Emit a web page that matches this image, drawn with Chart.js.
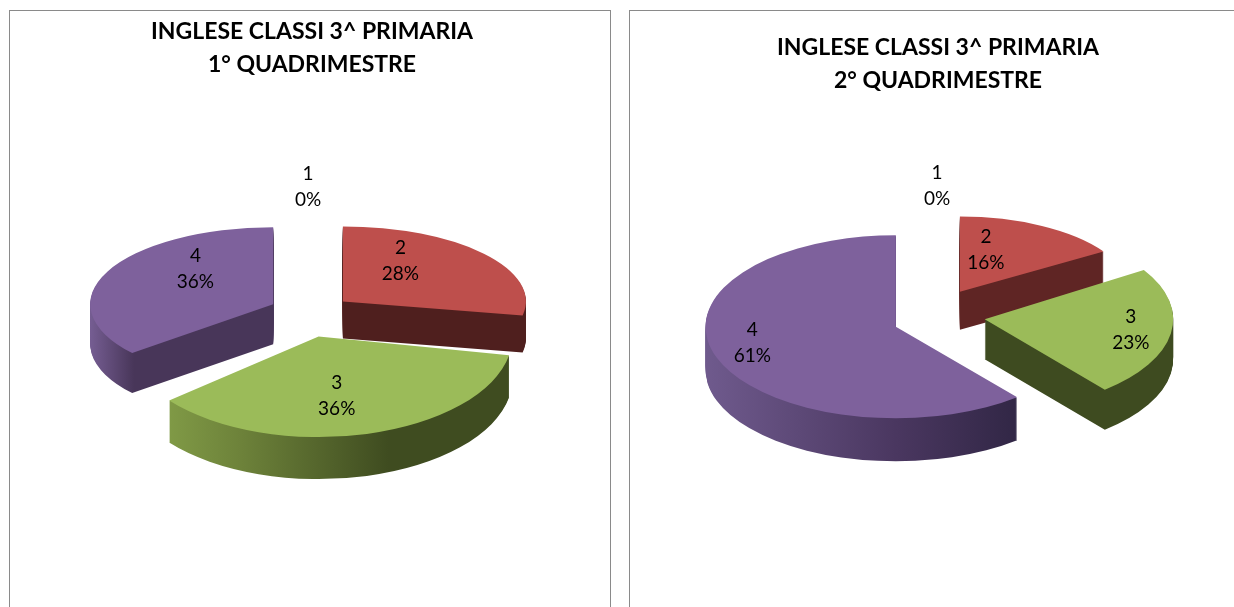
<!DOCTYPE html>
<html>
<head>
<meta charset="utf-8">
<script src="https://cdn.jsdelivr.net/npm/chart.js@4"></script>
<style>
    html, body { margin: 0; padding: 0; background: #fff; overflow: hidden; width: 1234px; height: 607px; }
    .box { position: absolute; top: 10px; height: 620px; border: 1px solid #8a8a8a; box-sizing: border-box; }
    canvas { position: absolute; top: 11px; }
</style>
</head>
<body>
<div class="box" style="left:9px;width:602px"></div>
<div class="box" style="left:629px;width:640px"></div>
<canvas id="chart1" width="604" height="596" style="left:10px"></canvas>
<canvas id="chart2" width="616" height="596" style="left:630px"></canvas>
<script>
// Dati
const categorie = ["1", "2", "3", "4"];
const valori1 = [0, 28, 36, 36];
const valori2 = [0, 16, 23, 61];
const titolo1 = ["INGLESE CLASSI 3^ PRIMARIA", "1° QUADRIMESTRE"];
const titolo2 = ["INGLESE CLASSI 3^ PRIMARIA", "2° QUADRIMESTRE"];
const coloriTop = ["#4f81bd", "#be4f4c", "#9bbb59", "#7e619c"];

const RAGGIO = 183;

// Stile 3D di ogni grafico (coordinate relative al canvas)
const stile1 = {
    cx: 301, cy: 303, explode: 44,
    fette: [
        { sx: 1, sy: 0.41, dz: 0, dx: 0, dy: 0, lx: 0, ly: 0, side: [[0, "#444"]] },
        { sx: 1, sy: 0.41, dz: 37, dx: -2, dy: -1, lx: -13, ly: -17, side: [[0, "#4f1f1e"], [1, "#4f1f1e"]] },
        { sx: 1.06, sy: 0.55, dz: 42, dx: -4, dy: -1, lx: -6, ly: 11, side: [[0, "#8ba84d"], [0.3, "#6d823a"], [0.68, "#3f4c20"], [1, "#3f4c20"]] },
        { sx: 1, sy: 0.42, dz: 40, dx: 2, dy: -2, lx: 5, ly: -19, side: [[0, "#755d92"], [0.12, "#483659"], [1, "#483659"]] },
    ],
    zero: { x: 298, y: 176 },
};
const stile2 = {
    cx: 311, cy: 301, explode: 40,
    fette: [
        { sx: 1, sy: 0.41, dz: 0, dx: 0, dy: 0, lx: 0, ly: 0, side: [[0, "#444"]] },
        { sx: 0.93, sy: 0.41, dz: 38, dx: 1, dy: -6, lx: -15, ly: -9, side: [[0, "#5f2524"], [1, "#5f2524"]] },
        { sx: 1.03, sy: 0.5, dz: 40, dx: 3, dy: 4, lx: 53, ly: 4, side: [[0, "#3e4b20"], [1, "#3e4b20"]] },
        { sx: 1.04, sy: 0.5, dz: 43, dx: -6, dy: 8, lx: -54, ly: 1, side: [[0, "#6f5a8d"], [0.5, "#4a3760"], [0.85, "#2f2543"], [1, "#2f2543"]] },
    ],
    zero: { x: 307, y: 175 },
};

// Disegna la torta estrusa usando gli archi calcolati da Chart.js
function creaTorta3d(stile) {
    return {
        id: "torta3d",
        beforeDatasetDraw() {
            return false;
        },
        afterDatasetsDraw(chart) {
            const ctx = chart.ctx;
            const archi = chart.getDatasetMeta(0).data;
            const dati = chart.data.datasets[0].data;
            const totale = dati.reduce((a, b) => a + b, 0);

            const posa = (arco, i) => {
                const f = stile.fette[i];
                const mid = (arco.startAngle + arco.endAngle) / 2;
                return {
                    x: stile.cx + f.dx + Math.cos(mid) * stile.explode * f.sx,
                    y: stile.cy + f.dy + Math.sin(mid) * stile.explode * f.sy,
                };
            };

            const ordine = archi
                .map((arco, i) => i)
                .filter((i) => dati[i] > 0)
                .sort((a, b) => posa(archi[a], a).y - posa(archi[b], b).y);

            ordine.forEach((i) => {
                const arco = archi[i];
                const f = stile.fette[i];
                const p = posa(arco, i);
                const opzioni = arco.options;
                const disegna = (colore, z) => {
                    ctx.save();
                    ctx.translate(p.x, p.y + z);
                    ctx.scale(f.sx, f.sy);
                    ctx.translate(-arco.x, -arco.y);
                    arco.options = Object.assign({}, opzioni, {
                        backgroundColor: colore,
                        borderWidth: 0,
                    });
                    arco.draw(ctx);
                    ctx.restore();
                };

                const grad = ctx.createLinearGradient(
                    arco.x - arco.outerRadius, 0,
                    arco.x + arco.outerRadius, 0
                );
                f.side.forEach((s) => grad.addColorStop(s[0], s[1]));
                for (let z = f.dz; z > 0; z--) {
                    disegna(grad, z);
                }
                disegna(opzioni.backgroundColor, 0);
                arco.options = opzioni;
            });

            // Etichette categoria + percentuale
            ctx.save();
            ctx.font = "19px Lato";
            ctx.fillStyle = "#000";
            ctx.textAlign = "center";
            ctx.textBaseline = "middle";
            archi.forEach((arco, i) => {
                const f = stile.fette[i];
                let x, y;
                if (dati[i] > 0) {
                    const c = arco.getCenterPoint();
                    const p = posa(arco, i);
                    x = p.x + (c.x - arco.x) * f.sx + f.lx;
                    y = p.y + (c.y - arco.y) * f.sy + f.ly;
                } else {
                    x = stile.zero.x;
                    y = stile.zero.y;
                }
                ctx.fillText(chart.data.labels[i], x, y - 13);
                ctx.fillText(Math.round((dati[i] / totale) * 100) + "%", x, y + 13);
            });
            ctx.restore();
        },
    };
}

function creaGrafico(id, valori, titolo, stile, paddingTitolo) {
    new Chart(document.getElementById(id), {
        type: "pie",
        data: {
            labels: categorie,
            datasets: [
                {
                    data: valori,
                    backgroundColor: coloriTop,
                    borderWidth: 0,
                },
            ],
        },
        options: {
            responsive: false,
            animation: false,
            radius: RAGGIO,
            plugins: {
                legend: { display: false },
                tooltip: { enabled: false },
                title: {
                    display: true,
                    text: titolo,
                    color: "#000",
                    font: { family: "Lato", size: 23, weight: "bold", lineHeight: 1.44 },
                    padding: { top: paddingTitolo, bottom: 10 },
                },
            },
        },
        plugins: [creaTorta3d(stile)],
    });
}

creaGrafico("chart1", valori1, titolo1, stile1, 4);
creaGrafico("chart2", valori2, titolo2, stile2, 20);
</script>
</body>
</html>
